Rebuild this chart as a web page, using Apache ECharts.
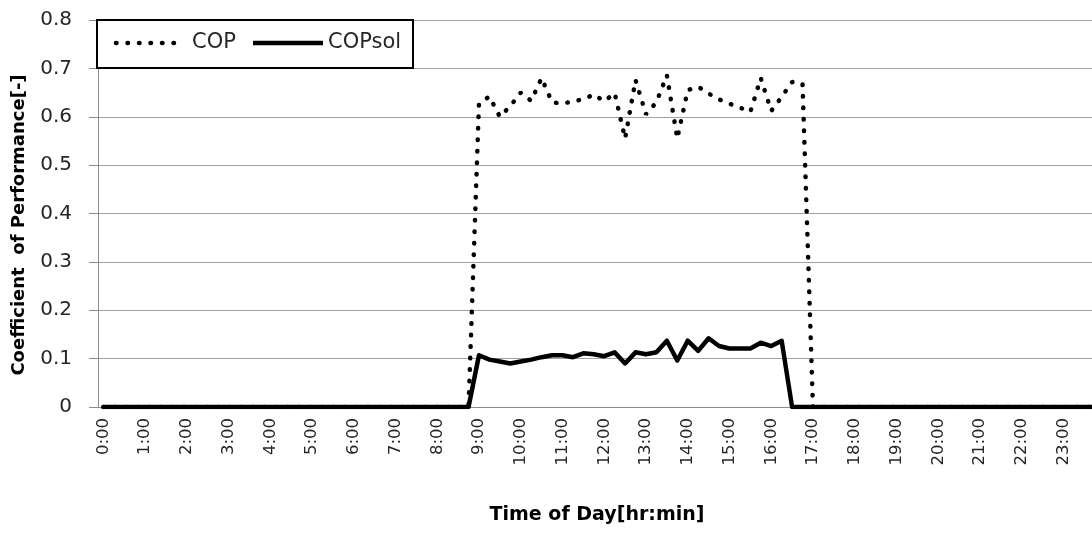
<!DOCTYPE html>
<html><head><meta charset="utf-8">
<script src="https://cdn.jsdelivr.net/npm/echarts@6/dist/echarts.min.js"></script>
<style>html,body{margin:0;padding:0;background:#fff;overflow:hidden;width:1092px;height:545px}#c{width:1104px;height:545px}</style>
</head><body><div id="c"></div>
<script>
const categories = [
 '0:00','0:15','0:30','0:45','1:00','1:15','1:30','1:45','2:00','2:15','2:30','2:45',
 '3:00','3:15','3:30','3:45','4:00','4:15','4:30','4:45','5:00','5:15','5:30','5:45',
 '6:00','6:15','6:30','6:45','7:00','7:15','7:30','7:45','8:00','8:15','8:30','8:45',
 '9:00','9:15','9:30','9:45','10:00','10:15','10:30','10:45','11:00','11:15','11:30','11:45',
 '12:00','12:15','12:30','12:45','13:00','13:15','13:30','13:45','14:00','14:15','14:30','14:45',
 '15:00','15:15','15:30','15:45','16:00','16:15','16:30','16:45','17:00','17:15','17:30','17:45',
 '18:00','18:15','18:30','18:45','19:00','19:15','19:30','19:45','20:00','20:15','20:30','20:45',
 '21:00','21:15','21:30','21:45','22:00','22:15','22:30','22:45','23:00','23:15','23:30','23:45'
];
const copValues = [
 0,0,0,0, 0,0,0,0, 0,0,0,0, 0,0,0,0, 0,0,0,0, 0,0,0,0, 0,0,0,0, 0,0,0,0, 0,0,0,0,
 0.627,0.642,0.600,0.622, 0.650,0.633,0.680,0.630, 0.627,0.632,0.636,0.646,
 0.632,0.649,0.555,0.676, 0.605,0.630,0.686,0.555, 0.655,0.662,0.648,0.636,
 0.627,0.619,0.610,0.680, 0.612,0.641,0.672,0.668,
 0,0,0,0, 0,0,0,0, 0,0,0,0, 0,0,0,0, 0,0,0,0, 0,0,0,0, 0,0,0,0
];
const copSolValues = [
 0,0,0,0, 0,0,0,0, 0,0,0,0, 0,0,0,0, 0,0,0,0, 0,0,0,0, 0,0,0,0, 0,0,0,0, 0,0,0,0,
 0.107,0.098,0.094,0.090, 0.094,0.098,0.103,0.107, 0.107,0.103,0.111,0.109,
 0.105,0.113,0.090,0.113, 0.109,0.113,0.137,0.096, 0.137,0.116,0.142,0.126,
 0.121,0.121,0.121,0.133, 0.126,0.137,
 0,0, 0,0,0,0, 0,0,0,0, 0,0,0,0, 0,0,0,0, 0,0,0,0, 0,0,0,0, 0,0,0,0
];
const seriesNames = ['COP', 'COPsol'];
const yAxisTitle = 'Coefficient  of Performance[-]';
const xAxisTitle = 'Time of Day[hr:min]';

const FONT = 'DejaVu Sans';
const chart = echarts.init(document.getElementById('c'), null, {renderer: 'canvas'});
chart.setOption({
  animation: false,
  backgroundColor: '#fff',
  textStyle: {fontFamily: FONT},
  grid: {left: 98, top: 20, width: 1002, height: 387, containLabel: false},
  xAxis: {
    type: 'category', data: categories, boundaryGap: true,
    axisLine: {lineStyle: {color: '#8c8c8c', width: 1}},
    axisTick: {interval: 0, length: 7, lineStyle: {color: '#8c8c8c'}},
    axisLabel: {interval: 3, rotate: 90, fontSize: 16.5, color: '#262626', margin: 11, fontFamily: FONT},
    splitLine: {show: false}
  },
  yAxis: {
    type: 'value', min: 0, max: 0.8, interval: 0.1,
    axisLine: {show: true, lineStyle: {color: '#8c8c8c'}},
    axisTick: {show: true, length: 9, lineStyle: {color: '#8c8c8c'}},
    axisLabel: {fontSize: 20, color: '#262626', margin: 26, fontFamily: FONT},
    splitLine: {lineStyle: {color: '#a0a0a0', width: 1}}
  },
  series: [
    {name: seriesNames[0], type: 'line', data: copValues, symbol: 'none', z: 3,
     lineStyle: {color: '#000', width: 4.5, type: [0.5, 11], cap: 'round'}},
    {name: seriesNames[1], type: 'line', data: copSolValues, symbol: 'none', z: 4,
     lineStyle: {color: '#000', width: 4.5, join: 'round'}}
  ],
  graphic: [
    {type: 'rect', z: 100, shape: {x: 97, y: 20, width: 316, height: 48},
     style: {fill: '#fff', stroke: '#000', lineWidth: 2}},
    {type: 'line', z: 101, shape: {x1: 116, y1: 43, x2: 178, y2: 43},
     style: {stroke: '#000', lineWidth: 4.5, lineDash: [0.5, 11], lineCap: 'round'}},
    {type: 'text', z: 101, x: 192, y: 43,
     style: {text: seriesNames[0], fontSize: 21, fontFamily: FONT, fill: '#262626', verticalAlign: 'middle', align: 'left'}},
    {type: 'line', z: 101, shape: {x1: 253, y1: 43, x2: 323, y2: 43},
     style: {stroke: '#000', lineWidth: 4.5}},
    {type: 'text', z: 101, x: 328, y: 43,
     style: {text: seriesNames[1], fontSize: 21, fontFamily: FONT, fill: '#262626', verticalAlign: 'middle', align: 'left'}},
    {type: 'text', z: 101, x: 19, y: 225, rotation: Math.PI / 2,
     style: {text: yAxisTitle, fontSize: 18, fontWeight: 'bold', fontFamily: FONT, fill: '#000', verticalAlign: 'middle', align: 'center'}},
    {type: 'text', z: 101, x: 597, y: 515,
     style: {text: xAxisTitle, fontSize: 19, fontWeight: 'bold', fontFamily: FONT, fill: '#000', verticalAlign: 'middle', align: 'center'}}
  ]
});
</script></body></html>
